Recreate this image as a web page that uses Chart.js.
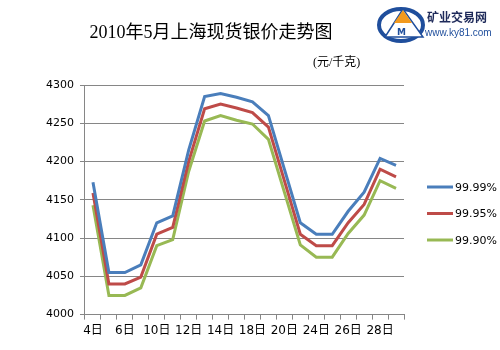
<!DOCTYPE html>
<html>
<head>
<meta charset="utf-8">
<script src="https://cdn.jsdelivr.net/npm/chart.js@4/dist/chart.umd.min.js"></script>
<style>
  body { margin: 0; background: #fff; }
  #wrap { position: relative; width: 500px; height: 350px; }
  #title {
    position: absolute; left: 88px; top: 17px; width: 246px; text-align: center;
    font: 18px "Liberation Serif", "Noto Sans CJK SC", serif; color: #000; white-space: nowrap;
  }
  #unit {
    position: absolute; left: 313px; top: 52px;
    font: 12px "Liberation Serif", "Noto Sans CJK SC", serif; color: #000; white-space: nowrap;
  }
  #logo { position: absolute; left: 376px; top: 4px; }
</style>
</head>
<body>
<div id="wrap">
  <canvas id="silverChart" width="500" height="350"></canvas>
  <div id="title">2010年5月上海现货银价走势图</div>
  <div id="unit">(元/千克)</div>
  <svg id="logo" width="120" height="44" viewBox="0 0 120 44">
    <ellipse cx="25" cy="21" rx="22" ry="16" fill="none" stroke="#1f4e9c" stroke-width="4"/>
    <polygon points="27,5 9,33 47,33" fill="#fff" stroke="#1f4e9c" stroke-width="1.5"/>
    <polygon points="27,6 18,19 36,19" fill="#f29a1f"/>
    <text x="21" y="31" font-family="DejaVu Sans" font-size="9" font-weight="bold" fill="#1f4e9c">M</text>
    <text x="51" y="18" font-family="Noto Sans CJK SC" font-size="12" font-weight="bold" fill="#1e2a5a">矿业交易网</text>
    <text x="49" y="32" font-family="Liberation Sans" font-size="10" fill="#1f4e9c">www.ky81.com</text>
  </svg>
</div>
<script>
// trading days of May 2010
const days = ["4日", "5日", "6日", "7日", "10日", "11日", "12日", "13日", "14日", "17日",
  "18日", "19日", "20日", "21日", "24日", "25日", "26日", "27日", "28日", "31日"];

const seriesNames = ["99.99%", "99.95%", "99.90%"];

const silver9999 = [4173, 4055, 4055, 4065, 4120, 4129, 4215, 4285, 4289, 4284,
  4278, 4260, 4190, 4120, 4105, 4105, 4135, 4160, 4204, 4195];
const silver9995 = [4159, 4040, 4040, 4049, 4105, 4114, 4200, 4269, 4275, 4270,
  4264, 4245, 4175, 4105, 4090, 4090, 4120, 4144, 4190, 4180];
const silver9990 = [4143, 4025, 4025, 4035, 4090, 4098, 4187, 4253, 4260, 4254,
  4249, 4229, 4160, 4091, 4075, 4075, 4106, 4130, 4175, 4165];

const yMin = 4000, yMax = 4300, yStep = 50;

const lineColors = ["#4a7ebb", "#be4b48", "#98b954"];

// legend drawn beside the plot, like the spreadsheet original
const sideLegend = {
  id: "sideLegend",
  afterDraw(chart) {
    const ctx = chart.ctx;
    const area = chart.chartArea;
    ctx.save();
    ctx.font = "11px 'DejaVu Sans', sans-serif";
    ctx.textBaseline = "middle";
    chart.data.datasets.forEach((ds, i) => {
      const y = area.top + 102 + i * 26.5;
      const x = area.right + 23;
      ctx.strokeStyle = ds.borderColor;
      ctx.lineWidth = 3;
      ctx.beginPath();
      ctx.moveTo(x, y);
      ctx.lineTo(x + 26, y);
      ctx.stroke();
      ctx.fillStyle = "#000";
      ctx.fillText(ds.label, x + 28, y + 1);
    });
    ctx.restore();
  },
};

const ctx = document.getElementById("silverChart").getContext("2d");
window.silverChart = new Chart(ctx, {
  type: "line",
  data: {
    labels: days,
    datasets: [
      { label: seriesNames[0], data: silver9999, borderColor: lineColors[0] },
      { label: seriesNames[1], data: silver9995, borderColor: lineColors[1] },
      { label: seriesNames[2], data: silver9990, borderColor: lineColors[2] },
    ],
  },
  options: {
    responsive: false,
    animation: false,
    devicePixelRatio: 1,
    layout: {
      padding: { left: 40, right: 96, top: 85, bottom: 8 },
    },
    elements: {
      line: { borderWidth: 3, tension: 0, fill: false },
      point: { radius: 0 },
    },
    scales: {
      x: {
        offset: true,
        border: { color: "#868686", width: 1 },
        grid: {
          offset: true,
          drawOnChartArea: false,
          color: "#868686",
          tickLength: 5,
        },
        ticks: {
          autoSkip: false,
          maxRotation: 0,
          padding: 4,
          color: "#000",
          font: { size: 12, family: "'DejaVu Sans', 'Noto Sans CJK SC', sans-serif" },
          callback: (v, i) => (i % 2 === 0 ? days[i] : ""),
        },
      },
      y: {
        min: yMin,
        max: yMax,
        border: { color: "#868686", width: 1 },
        grid: { color: "#868686", tickLength: 5 },
        ticks: {
          stepSize: yStep,
          padding: 6,
          color: "#000",
          font: { size: 11, family: "'DejaVu Sans', sans-serif" },
          callback: (v) => String(v),
        },
      },
    },
    plugins: {
      legend: { display: false },
      tooltip: { enabled: false },
    },
  },
  plugins: [sideLegend],
});
</script>
</body>
</html>
